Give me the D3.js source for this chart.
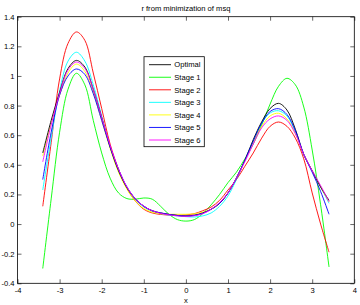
<!DOCTYPE html>
<html><head><meta charset="utf-8">
<script src="https://cdn.jsdelivr.net/npm/d3@7"></script>
<style>body{margin:0;background:#fff}svg{display:block}text{font-family:"Liberation Sans",Arial,sans-serif}</style>
</head><body><svg id="c" width="360" height="305"></svg>
<script>
const xs = [-3.4,-3.2,-3.0,-2.8,-2.6,-2.4,-2.2,-2.0,-1.8,-1.6,-1.4,-1.2,-1.0,-0.8,-0.6,-0.4,-0.2,0.0,0.2,0.4,0.6,0.8,1.0,1.2,1.4,1.6,1.8,2.0,2.2,2.4,2.6,2.8,3.0,3.2,3.4];
const optimal = [0.48,0.70,0.89,1.05,1.105,1.06,0.91,0.72,0.52,0.36,0.245,0.17,0.12,0.09,0.075,0.065,0.058,0.055,0.06,0.075,0.10,0.14,0.21,0.31,0.43,0.57,0.69,0.78,0.815,0.77,0.64,0.47,0.36,0.25,0.16];
const stage1 = [-0.30,0.17,0.62,0.91,1.018,0.94,0.70,0.48,0.31,0.21,0.172,0.168,0.176,0.168,0.12,0.065,0.03,0.02,0.03,0.07,0.13,0.20,0.28,0.35,0.44,0.54,0.67,0.81,0.93,0.984,0.94,0.79,0.50,0.13,-0.29];
const stage2 = [0.12,0.55,0.98,1.22,1.297,1.24,1.02,0.78,0.54,0.37,0.24,0.155,0.10,0.075,0.065,0.06,0.06,0.062,0.07,0.09,0.115,0.16,0.23,0.30,0.39,0.48,0.58,0.66,0.689,0.66,0.58,0.44,0.21,0.0,-0.19];
const stage3 = [0.23,0.58,0.90,1.10,1.16,1.10,0.94,0.73,0.52,0.36,0.245,0.165,0.115,0.085,0.07,0.06,0.055,0.05,0.048,0.055,0.075,0.12,0.19,0.30,0.43,0.56,0.68,0.75,0.765,0.73,0.62,0.47,0.36,0.25,0.14];
const stage4 = [0.46,0.68,0.87,1.02,1.08,1.03,0.89,0.70,0.51,0.35,0.235,0.155,0.105,0.08,0.07,0.066,0.066,0.066,0.07,0.08,0.10,0.14,0.21,0.31,0.43,0.55,0.66,0.73,0.748,0.71,0.61,0.47,0.36,0.25,0.15];
const stage5 = [0.30,0.62,0.87,1.00,1.047,1.01,0.88,0.70,0.52,0.37,0.25,0.17,0.12,0.09,0.075,0.065,0.058,0.054,0.058,0.072,0.10,0.14,0.21,0.31,0.43,0.56,0.68,0.76,0.779,0.74,0.63,0.47,0.35,0.22,0.066];
const stage6 = [0.42,0.67,0.88,1.04,1.094,1.05,0.91,0.72,0.53,0.37,0.25,0.17,0.12,0.09,0.072,0.062,0.055,0.052,0.056,0.07,0.10,0.145,0.21,0.31,0.42,0.54,0.65,0.71,0.73,0.70,0.61,0.47,0.36,0.26,0.15];
const names = ["Optimal","Stage 1","Stage 2","Stage 3","Stage 4","Stage 5","Stage 6"];
const colors = ["#000000","#00ff00","#ff0000","#00ffff","#ffff00","#0000ff","#ff00ff"];
const seriesVals = [optimal,stage1,stage2,stage3,stage4,stage5,stage6];
const xTicks = [-4,-3,-2,-1,0,1,2,3,4];
const yTicks = [-0.4,-0.2,0,0.2,0.4,0.6,0.8,1,1.2,1.4];
const title = "r from minimization of msq";

const svg = d3.select("#c");
const L=17.5, R=354.3, T=16.7, B=283.3;
const x = d3.scaleLinear().domain([-4,4]).range([L,R]);
const y = d3.scaleLinear().domain([-0.4,1.4]).range([B,T]);

const fs = 7.6;
const line = d3.line().x(d=>x(d[0])).y(d=>y(d[1])).curve(d3.curveCatmullRom.alpha(0.5));
const order = [1,2,3,4,0,5,6];
order.forEach(i=>{
  svg.append("path").attr("d", line(xs.map((v,k)=>[v,seriesVals[i][k]])))
    .attr("fill","none").attr("stroke",colors[i]).attr("stroke-width",0.9);
});

const tl = 4;
svg.append("rect").attr("x",L).attr("y",T).attr("width",R-L).attr("height",B-T)
  .attr("fill","none").attr("stroke","#000").attr("stroke-width",0.8);
const ax = d3.axisBottom(x).tickValues(xTicks).tickSizeInner(-tl).tickSizeOuter(0).tickPadding(4).tickFormat(d=>String(d));
const gx = svg.append("g").attr("transform",`translate(0,${B})`).call(ax);
const axT = d3.axisTop(x).tickValues(xTicks).tickSizeInner(-tl).tickSizeOuter(0).tickFormat("");
const gxt = svg.append("g").attr("transform",`translate(0,${T})`).call(axT);
const ay = d3.axisLeft(y).tickValues(yTicks).tickSizeInner(-tl).tickSizeOuter(0).tickPadding(3).tickFormat(d=>String(+d.toFixed(1)));
const gy = svg.append("g").attr("transform",`translate(${L},0)`).call(ay);
const ayR = d3.axisRight(y).tickValues(yTicks).tickSizeInner(-tl).tickSizeOuter(0).tickFormat("");
const gyr = svg.append("g").attr("transform",`translate(${R},0)`).call(ayR);
[gx,gxt,gy,gyr].forEach(g=>{
  g.select(".domain").remove();
  g.selectAll("line").attr("stroke","#000").attr("stroke-width",0.6);
  g.selectAll("text").attr("font-size",fs).attr("fill","#000").style("font-family",'"Liberation Sans",Arial,sans-serif');
});

svg.append("text").attr("x",(L+R)/2).attr("y",11).attr("text-anchor","middle").attr("font-size",fs).text(title);
svg.append("text").attr("x",(L+R)/2).attr("y",303).attr("text-anchor","middle").attr("font-size",fs).text("x");

const lg = svg.append("g");
lg.append("rect").attr("x",144).attr("y",56.7).attr("width",60.3).attr("height",90)
  .attr("fill","#fff").attr("stroke","#000").attr("stroke-width",0.8);
names.forEach((n,i)=>{
  const yy = 64.7 + i*12.55;
  lg.append("line").attr("x1",149).attr("x2",171).attr("y1",yy).attr("y2",yy).attr("stroke",colors[i]).attr("stroke-width",0.9);
  lg.append("text").attr("x",174.3).attr("y",yy+2.7).attr("font-size",fs).text(n);
});
</script></body></html>
